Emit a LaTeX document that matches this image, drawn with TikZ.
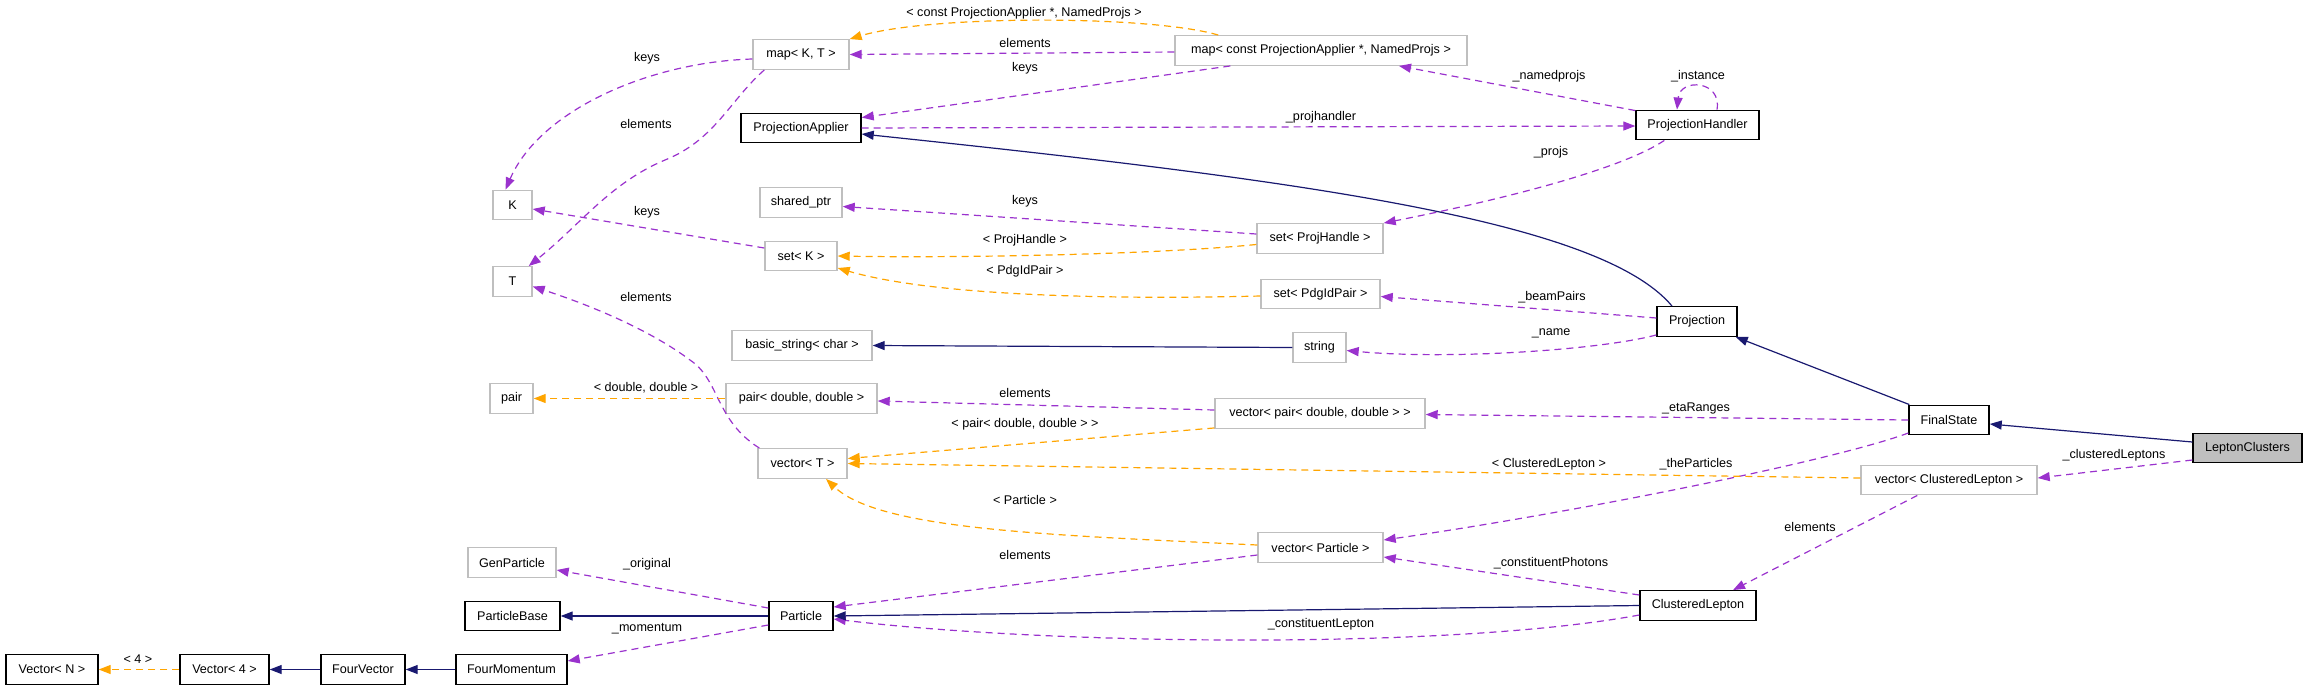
\documentclass[tikz,border=0pt]{standalone}
\usepackage{fontspec}
\setmainfont{Liberation Sans}
\usetikzlibrary{arrows.meta,calc}
\definecolor{usecol}{HTML}{9A32CD}
\definecolor{tplcol}{HTML}{FFA500}
\definecolor{inhcol}{HTML}{191970}
\definecolor{extcol}{HTML}{BFBFBF}
\begin{document}
\begin{tikzpicture}[x=1pt,y=-1pt,
  font=\fontsize{12.6}{15}\selectfont,
  box/.style={rectangle,inner sep=0pt,minimum height=29.5pt},
  cls/.style={box,draw=black,line width=1.4pt},
  ext/.style={box,draw=extcol,line width=1.4pt},
  lcbox/.style={cls,fill=extcol},
  usearr/.style={draw=usecol,line width=1.2pt,dash pattern=on 7pt off 5pt,-{Triangle[length=12pt,width=9pt,fill=usecol]}},
  tplarr/.style={draw=tplcol,line width=1.2pt,dash pattern=on 7pt off 5pt,-{Triangle[length=12pt,width=9pt,fill=tplcol]}},
  inharr/.style={draw=inhcol,line width=1.2pt,-{Triangle[length=12pt,width=9pt,fill=inhcol]}},
  lbl/.style={inner sep=0pt,text=black}]
\useasboundingbox (0,0) rectangle (2307,689);
% nodes
\node[ext,minimum width=96pt] (mapKT) at (801,54.5) {map< K, T >};
\node[ext,minimum width=292pt] (mapC) at (1321,50.5) {map< const ProjectionApplier *, NamedProjs >};
\node[cls,minimum width=120pt] (PA) at (801,128) {ProjectionApplier};
\node[cls,minimum width=123pt] (PH) at (1697.5,125) {ProjectionHandler};
\node[ext,minimum width=39pt] (K) at (512.5,205) {K};
\node[ext,minimum width=39pt] (T) at (512.5,281.5) {T};
\node[ext,minimum width=82pt] (sptr) at (801,202.5) {shared\_ptr};
\node[ext,minimum width=126pt] (setPH) at (1320,238.5) {set< ProjHandle >};
\node[ext,minimum width=72pt] (setK) at (801,256) {set< K >};
\node[ext,minimum width=119pt] (setPdg) at (1320.5,294) {set< PdgIdPair >};
\node[cls,minimum width=80pt] (Proj) at (1697,321.5) {Projection};
\node[ext,minimum width=140pt] (bstr) at (802,345.5) {basic\_string< char >};
\node[ext,minimum width=53pt] (str) at (1319.5,347.5) {string};
\node[ext,minimum width=43pt] (pair) at (511.5,398.5) {pair};
\node[ext,minimum width=151pt] (pairdd) at (801.5,398.5) {pair< double, double >};
\node[ext,minimum width=210pt] (vpair) at (1320,413.5) {vector< pair< double, double > >};
\node[cls,minimum width=80pt] (FS) at (1949,420) {FinalState};
\node[lcbox,minimum width=109pt] (LC) at (2247.5,448) {LeptonClusters};
\node[ext,minimum width=89pt] (vT) at (802.5,463.5) {vector< T >};
\node[ext,minimum width=176pt] (vCL) at (1949,480) {vector< ClusteredLepton >};
\node[ext,minimum width=125pt] (vP) at (1320.5,547.5) {vector< Particle >};
\node[ext,minimum width=88pt] (GenP) at (512,562.5) {GenParticle};
\node[cls,minimum width=116pt] (CL) at (1698,605.5) {ClusteredLepton};
\node[cls,minimum width=95pt] (PB) at (512.5,616) {ParticleBase};
\node[cls,minimum width=64pt] (Particle) at (801,616) {Particle};
\node[cls,minimum width=92pt] (VN) at (52,669.5) {Vector< N >};
\node[cls,minimum width=89pt] (V4) at (224.5,669.5) {Vector< 4 >};
\node[cls,minimum width=84pt] (FV) at (363,669.5) {FourVector};
\node[cls,minimum width=111pt] (FM) at (511.5,669.5) {FourMomentum};
% usage edges
\draw[usearr] ($(mapKT.west)+(0,4.5)$) .. controls (650,62) and (540,110) .. ($(K.north)+(-7,0)$);
\draw[usearr] ($(mapKT.south west)+(12,0)$) .. controls (730,100) and (715,140) .. (665,160) .. controls (610,183) and (580,225) .. ($(T.north east)+(-4,0)$);
\draw[usearr] ($(mapC.west)+(0,1.5)$) -- (mapKT.east);
\draw[usearr] ($(mapC.south west)+(56,0)$) -- ($(PA.north east)+(0,5)$);
\draw[usearr] ($(PH.north west)+(0,1)$) -- ($(mapC.south)+(78,0)$);
\draw[usearr] ($(PH.north)+(19.5,0)$) .. controls (1722,80) and (1680,78) .. ($(PH.north)+(-20.5,0)$);
\draw[usearr] (PA.east) -- ($(PH.west)+(0,1)$);
\draw[usearr] ($(PH.south west)+(29,0)$) .. controls (1620,170) and (1500,200) .. (setPH.north east);
\draw[usearr] ($(setPH.west)+(0,-4.5)$) -- ($(sptr.east)+(0,4)$);
\draw[usearr] ($(setK.west)+(0,-8)$) -- ($(K.east)+(0,4)$);
\draw[usearr] ($(vT.north west)+(2,0)$) .. controls (715,420) and (720,380) .. (690,360) .. controls (650,330) and (590,305) .. ($(T.east)+(0,5)$);
\draw[usearr] ($(Proj.west)+(0,-3.5)$) -- ($(setPdg.east)+(0,2.5)$);
\draw[usearr] ($(Proj.south west)+(0,-2)$) .. controls (1600,350) and (1450,360) .. ($(str.east)+(0,3)$);
\draw[usearr] ($(vpair.west)+(0,-3.5)$) -- ($(pairdd.east)+(0,2.5)$);
\draw[usearr] (FS.west) -- ($(vpair.east)+(0,1)$);
\draw[usearr] ($(FS.west)+(0,13)$) .. controls (1830,462) and (1560,515) .. ($(vP.east)+(0,-7.5)$);
\draw[usearr] ($(LC.west)+(0,12)$) -- ($(vCL.east)+(0,-2)$);
\draw[usearr] ($(vCL.south west)+(57,0)$) -- ($(CL.north)+(35,0)$);
\draw[usearr] ($(CL.west)+(0,-10.5)$) -- ($(vP.east)+(0,9.5)$);
\draw[usearr] ($(vP.west)+(0,7.5)$) -- ($(Particle.east)+(0,-9)$);
\draw[usearr] ($(CL.west)+(0,9.5)$) .. controls (1450,650) and (1050,645) .. ($(Particle.east)+(0,3)$);
\draw[usearr] ($(Particle.west)+(0,-8)$) -- ($(GenP.east)+(0,7.5)$);
\draw[usearr] ($(Particle.west)+(0,9)$) -- ($(FM.east)+(0,-8.5)$);
% template edges
\draw[tplarr] ($(mapC.north west)+(44,0)$) .. controls (1150,15) and (930,15) .. (mapKT.north east);
\draw[tplarr] ($(setPH.west)+(0,6)$) .. controls (1150,255) and (950,258) .. (setK.east);
\draw[tplarr] ($(setPdg.west)+(0,2)$) .. controls (1100,300) and (930,295) .. ($(setK.east)+(0,12)$);
\draw[tplarr] (pairdd.west) -- (pair.east);
\draw[tplarr] ($(vpair.south west)+(0,-1)$) -- ($(vT.east)+(0,-5)$);
\draw[tplarr] ($(vCL.west)+(0,-2)$) -- (vT.east);
\draw[tplarr] ($(vP.west)+(0,-2.5)$) .. controls (1050,535) and (880,530) .. ($(vT.south)+(23.5,0)$);
\draw[tplarr] (V4.west) -- (VN.east);
% inheritance edges
\draw[inharr] ($(Proj.north)+(-25,0)$) .. controls (1600,220) and (1300,180) .. ($(PA.east)+(0,6)$);
\draw[inharr] (str.west) -- (bstr.east);
\draw[inharr] ($(FS.north west)+(1,0)$) -- ($(Proj.south east)+(-2,0)$);
\draw[inharr] ($(LC.west)+(0,-6)$) -- ($(FS.east)+(0,4)$);
\draw[inharr] (CL.west) -- (Particle.east);
\draw[inharr] (Particle.west) -- (PB.east);
\draw[inharr] (FM.west) -- (FV.east);
\draw[inharr] (FV.west) -- (V4.east);
% labels
\node[lbl] at (647,58) {keys};
\node[lbl] at (646,124) {elements};
\node[lbl] at (647,212) {keys};
\node[lbl] at (646,297) {elements};
\node[lbl] at (1024,13) {< const ProjectionApplier *, NamedProjs >};
\node[lbl] at (1025,43) {elements};
\node[lbl] at (1025,68) {keys};
\node[lbl] at (1549,76) {\_namedprojs};
\node[lbl] at (1698,76) {\_instance};
\node[lbl] at (1321,117) {\_projhandler};
\node[lbl] at (1551,152) {\_projs};
\node[lbl] at (1025,201) {keys};
\node[lbl] at (1025,240) {< ProjHandle >};
\node[lbl] at (1025,271) {< PdgIdPair >};
\node[lbl] at (1552,297) {\_beamPairs};
\node[lbl] at (1551,333) {\_name};
\node[lbl] at (646,388) {< double, double >};
\node[lbl] at (1025,393) {elements};
\node[lbl] at (1696,408) {\_etaRanges};
\node[lbl] at (1025,424) {< pair< double, double > >};
\node[lbl] at (1549,464) {< ClusteredLepton >};
\node[lbl] at (1696,464) {\_theParticles};
\node[lbl] at (2114,455) {\_clusteredLeptons};
\node[lbl] at (1025,500) {< Particle >};
\node[lbl] at (1810,527) {elements};
\node[lbl] at (1025,555) {elements};
\node[lbl] at (1551,563) {\_constituentPhotons};
\node[lbl] at (647,564) {\_original};
\node[lbl] at (1321,624) {\_constituentLepton};
\node[lbl] at (647,629) {\_momentum};
\node[lbl] at (138,659) {< 4 >};
\end{tikzpicture}
\end{document}
